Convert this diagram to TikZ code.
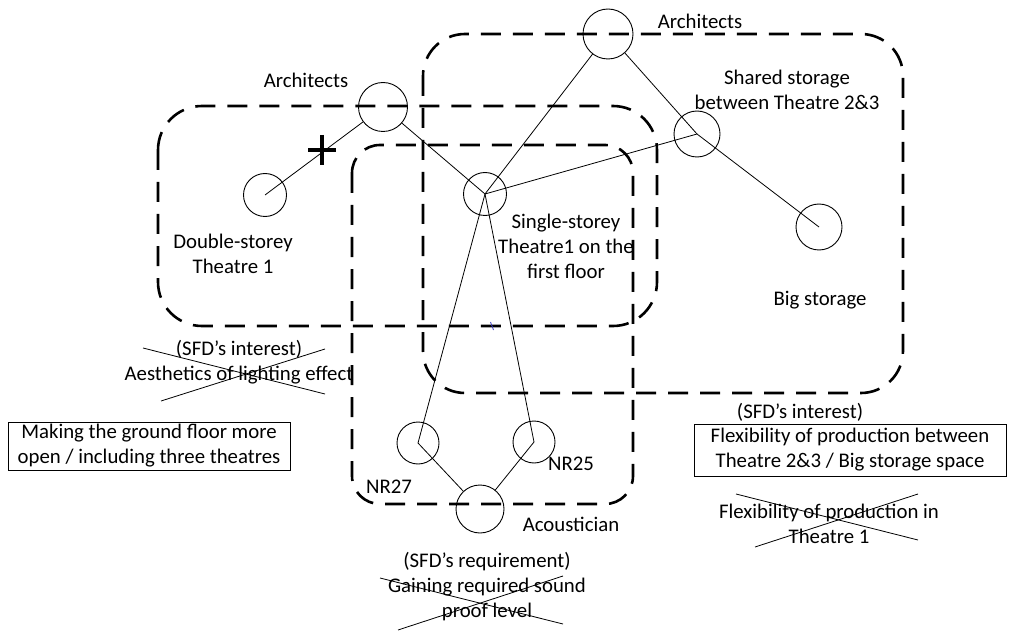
\documentclass[tikz,border=0pt]{standalone}
\usepackage{fontspec}
\setmainfont{Carlito}
\begin{document}
\begin{tikzpicture}[x=1pt,y=-1pt,
  lbl/.style={font=\fontsize{20.8}{25}\selectfont, align=center, inner sep=0pt},
  party/.style={circle, draw, line width=0.9pt, inner sep=0pt, minimum size=#1},
  party/.default=48pt,
  issue/.style={circle, draw, line width=0.9pt, inner sep=0pt, minimum size=#1},
  issue/.default=43pt,
  link/.style={line width=0.8pt},
  grp/.style={line width=2.6pt, dash pattern=on 20pt off 12pt},
  strike/.style={line width=0.8pt},
  framed/.style={lbl, draw, line width=0.9pt, inner sep=0pt},
  plusmark/.style={line width=3.6pt}
]
\useasboundingbox (0,0) rectangle (1028,631);

% stakeholder groupings
\draw[grp, rounded corners=44pt] (158,106) rectangle (657,326);
\draw[grp, rounded corners=28pt] (352,145) rectangle (633,504);
\draw[grp, rounded corners=42pt] (423,34) rectangle (903,393);

% actors and issues
\node[party=49pt] (arch1) at (383,107) {};
\node[party=50pt] (arch2) at (608,34) {};
\node[party=48pt] (acou) at (480,509) {};
\node[issue] (dbl) at (265,195) {};
\node[issue] (single) at (485,194) {};
\node[issue=46pt] (shared) at (697,134) {};
\node[issue=46pt] (big) at (819,227) {};
\node[issue=42pt] (nr27) at (418,443) {};
\node[issue=42pt] (nr25) at (534,442) {};

% relations
\draw[link] (arch1) -- (dbl.center);
\draw[link] (arch1) -- (single.center);
\draw[link] (arch2) -- (single.center);
\draw[link] (arch2) -- (shared.center);
\draw[link] (single.center) -- (shared.center);
\draw[link] (shared.center) -- (big.center);
\draw[link] (single.center) -- (nr27.center);
\draw[link] (single.center) -- (nr25.center);
\draw[link] (acou) -- (nr27.center);
\draw[link] (acou) -- (nr25.center);

% plus mark on the architects' relation
\coordinate (plus) at (322,150);
\draw[plusmark] (plus) ++(-14,0) -- ++(28,0);
\draw[plusmark] (plus) ++(0,-15) -- ++(0,30);

% small stray tick
\coordinate (tick) at (492,326);
\draw[line width=0.8pt, color=blue!50!gray] (tick) ++(-1.5,-4) -- ++(3,8);

% labels
\node[lbl] (tArch1) at (306,80) {Architects};
\node[lbl] (tArch2) at (700,21) {Architects};
\node[lbl] (tShared) at (787,90) {Shared storage\\between Theatre 2\&3};
\node[lbl] (tDbl) at (233,254) {Double-storey\\Theatre 1};
\node[lbl] (tSingle) at (566,246) {Single-storey\\Theatre1 on the\\first floor};
\node[lbl] (tBig) at (820,300) {Big storage};
\node[lbl] (tNR27) at (389,487) {NR27};
\node[lbl] (tNR25) at (571,464) {NR25};
\node[lbl] (tAcou) at (571,524) {Acoustician};

% SFD requirement / interests
\node[lbl] (req) at (487,587) {(SFD’s requirement)\\Gaining required sound\\proof level};
\draw[strike] (380,578) -- (563,624);
\draw[strike] (398,630) -- (563,576);

\node[lbl] (intL) at (239,362) {(SFD’s interest)\\Aesthetics of lighting effect};
\draw[strike] (143,348) -- (325,394);
\draw[strike] (161,401) -- (325,349);

\node[framed, minimum width=282pt, minimum height=48pt] (open) at (149,446)
  {Making the ground floor more\\open / including three theatres};

\node[lbl] (intR) at (800,412) {(SFD’s interest)};
\node[framed, minimum width=312pt, minimum height=52pt] (flex) at (850,450)
  {Flexibility of production between\\Theatre 2\&3 / Big storage space};

\node[lbl] (flex1) at (829,524) {Flexibility of production in\\Theatre 1};
\draw[strike] (736,494) -- (918,540);
\draw[strike] (755,547) -- (918,494);
\end{tikzpicture}
\end{document}
